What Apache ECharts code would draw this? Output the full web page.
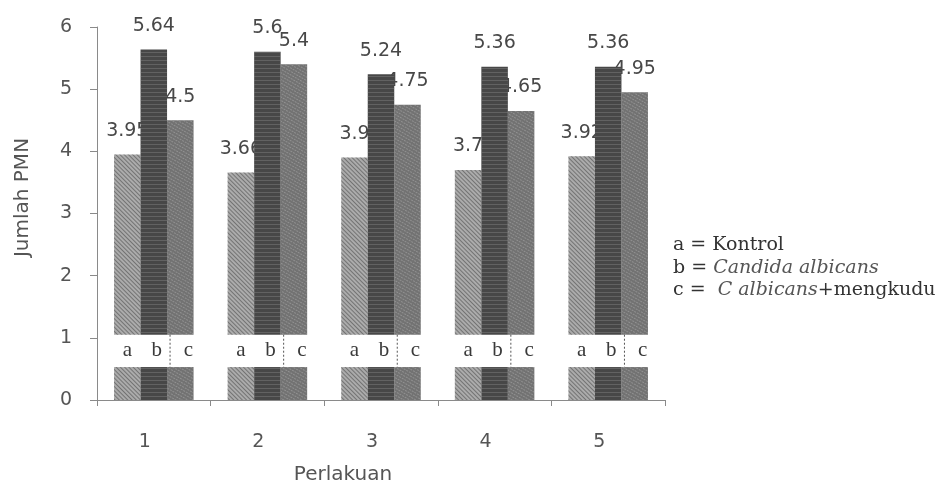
<!DOCTYPE html>
<html>
<head>
<meta charset="utf-8">
<script src="https://cdn.jsdelivr.net/npm/echarts@6/dist/echarts.min.js"></script>
<style>
html,body{margin:0;padding:0;background:#fff;}
#chart{width:952px;height:490px;}
</style>
</head>
<body>
<div id="chart"></div>
<script>
// ---- data ----
const categories = ['1', '2', '3', '4', '5'];
const kontrol  = [3.95, 3.66, 3.9, 3.7, 3.92];   // a
const candida  = [5.64, 5.6, 5.24, 5.36, 5.36];  // b
const mengkudu = [4.5, 5.4, 4.75, 4.65, 4.95];   // c
const groupLetters = ['a', 'b', 'c'];
const yMin = 0, yMax = 6, yStep = 1;
// broken-bar band (value range left blank for the a/b/c letters)
const breakLow = 0.53, breakHigh = 1.05;

const styles = {
  a: { color: '#ababab', decal: { symbol: 'rect', symbolSize: 1, color: 'rgba(60,60,60,0.5)', dashArrayX: [1, 0], dashArrayY: [1, 2], rotation: Math.PI / 4 } },
  b: { color: '#474747', decal: { symbol: 'rect', symbolSize: 1, color: 'rgba(150,150,150,0.35)', dashArrayX: [1, 0], dashArrayY: [1, 3], rotation: 0 } },
  c: { color: '#727272', decal: { symbol: 'rect', symbolSize: 1, color: 'rgba(200,200,200,0.35)', dashArrayX: [2, 1], dashArrayY: [1, 2], rotation: Math.PI / 6 } }
};
const letterOffset = { a: [0, 0], b: [3, 0], c: [8, 0] };
const seriesZ = { a: 2, b: 3, c: 2 };

function makeSeries(letter, values) {
  const st = styles[letter];
  return [
    {
      name: letter + '-low', type: 'bar', stack: letter, z: seriesZ[letter], silent: true,
      data: values.map(v => Math.min(v, breakLow)),
      itemStyle: { color: st.color, decal: st.decal }
    },
    {
      name: letter + '-gap', type: 'bar', stack: letter, z: seriesZ[letter], silent: true,
      data: values.map(() => breakHigh - breakLow),
      itemStyle: { color: 'rgba(0,0,0,0)' },
      label: {
        show: true, position: 'inside', formatter: letter, offset: letterOffset[letter],
        fontFamily: 'Liberation Serif', fontSize: 21, color: '#3a3a3a'
      }
    },
    {
      name: letter + '-top', type: 'bar', stack: letter, z: seriesZ[letter], silent: true,
      data: values.map(v => v - breakHigh),
      itemStyle: { color: st.color, decal: st.decal },
      label: {
        show: true, position: 'top', distance: 14,
        formatter: p => String(values[p.dataIndex]),
        fontFamily: 'DejaVu Sans', fontSize: 19, color: '#484848'
      },
      barGap: '0%', barCategoryGap: '30%'
    }
  ];
}

const series = []
  .concat(makeSeries('a', kontrol))
  .concat(makeSeries('b', candida))
  .concat(makeSeries('c', mengkudu));

series.push({
  type: 'custom', silent: true, z: 4,
  data: categories.map((c, i) => [i]),
  encode: { x: 0 },
  renderItem: function (params, api) {
    const i = api.value(0);
    const p1 = api.coord([i, breakHigh]);
    const p2 = api.coord([i, breakLow]);
    const band = api.size([1, 0])[0];
    const bw = band * 0.7 / 3;
    const x = p1[0] + bw / 2 + 3;
    return {
      type: 'line',
      shape: { x1: x, y1: p1[1], x2: x, y2: p2[1] },
      style: { stroke: '#555', lineWidth: 1, lineDash: [2, 2] }
    };
  }
});

const chart = echarts.init(document.getElementById('chart'), null, { renderer: 'canvas' });
chart.setOption({
  backgroundColor: '#ffffff',
  animation: false,
  title: {
    left: 668, top: 229,
    text: '{n|a = Kontrol}\n{n|b = }{i|Candida albicans}\n{n|c =  }{i|C albicans}{n|+mengkudu}',
    textStyle: {
      fontWeight: 'normal',
      rich: {
        n: { fontFamily: 'DejaVu Serif', fontSize: 19, fontWeight: 'normal', color: '#333', lineHeight: 22.5 },
        i: { fontFamily: 'DejaVu Serif', fontSize: 19, fontWeight: 'normal', fontStyle: 'italic', color: '#555', lineHeight: 22.5 }
      }
    }
  },
  grid: { left: 97, right: 287, top: 27, bottom: 90, containLabel: false },
  xAxis: {
    type: 'category', data: categories,
    axisLine: { lineStyle: { color: '#8a8a8a', width: 1 } },
    axisTick: { show: true, length: 6, lineStyle: { color: '#8a8a8a' } },
    axisLabel: { margin: 33, fontFamily: 'DejaVu Sans', fontSize: 19, color: '#555', padding: [0, 18, 0, 0] },
    name: 'Perlakuan', nameLocation: 'middle', nameGap: 65,
    nameTextStyle: { fontFamily: 'DejaVu Sans', fontSize: 20, color: '#555', padding: [0, 76, 0, 0] }
  },
  yAxis: {
    type: 'value', min: yMin, max: yMax, interval: yStep,
    axisLine: { show: true, lineStyle: { color: '#8a8a8a', width: 1 } },
    axisTick: { show: true, length: 7, lineStyle: { color: '#8a8a8a' } },
    splitLine: { show: false },
    axisLabel: { margin: 25, fontFamily: 'DejaVu Sans', fontSize: 19, color: '#555' },
    name: 'Jumlah PMN', nameLocation: 'middle', nameGap: 64,
    nameTextStyle: { fontFamily: 'DejaVu Sans', fontSize: 20, color: '#555', padding: [0, 0, 0, 32] }
  },
  series: series
});
</script>
</body>
</html>
